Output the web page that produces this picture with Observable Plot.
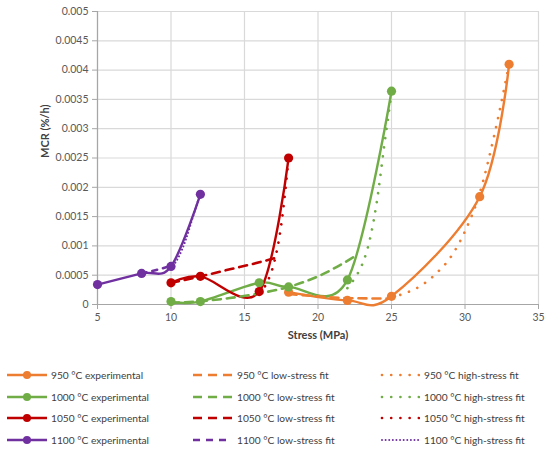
<!DOCTYPE html>
<html>
<head>
<meta charset="utf-8">
<script src="https://cdn.jsdelivr.net/npm/d3@7"></script>
<script src="https://cdn.jsdelivr.net/npm/@observablehq/plot@0.6"></script>
<style>
  body { margin: 0; background: #fff; font-family: Lato, "Open Sans", sans-serif; }
  #wrap { position: relative; width: 550px; height: 452px; }
  #legend { position: absolute; left: 0; top: 350px; width: 550px; height: 102px; }
  .item { position: absolute; height: 16px; display: flex; align-items: center; font-size: 10.2px; color: #404040; white-space: nowrap; }
  .item svg { margin-right: 4px; }
</style>
</head>
<body>
<div id="wrap"><div id="chart"></div><div id="legend"></div></div>
<script>
// ---- Data ----
const xTicks = [5, 10, 15, 20, 25, 30, 35];
const yTicks = [0, 0.0005, 0.001, 0.0015, 0.002, 0.0025, 0.003, 0.0035, 0.004, 0.0045, 0.005];

// experimental
const exp950Stress = [18, 22, 25, 31, 33];
const exp950Mcr = [0.00021, 0.00007, 0.00014, 0.00184, 0.0041];
const exp1000Stress = [10, 12, 16, 18, 22, 25];
const exp1000Mcr = [0.00005, 0.00005, 0.00037, 0.0003, 0.00042, 0.00364];
const exp1050Stress = [10, 12, 16, 18];
const exp1050Mcr = [0.00037, 0.00048, 0.00022, 0.0025];
const exp1100Stress = [5, 8, 10, 12];
const exp1100Mcr = [0.00034, 0.00053, 0.00065, 0.00188];

// low-stress fits
const low950Stress = [18, 20, 22, 25];
const low950Mcr = [0.00018, 0.00014, 0.00011, 0.0001];
const low1000Stress = [10, 12, 14, 16, 18, 20, 22.5];
const low1000Mcr = [0.000026, 0.000056, 0.00011, 0.00019, 0.0003, 0.00048, 0.00082];
const low1050Stress = [10, 12, 14, 16, 17.3];
const low1050Mcr = [0.00037, 0.00048, 0.0006, 0.00072, 0.00081];
const low1100Stress = [8, 9, 10];
const low1100Mcr = [0.00053, 0.00059, 0.00066];

// high-stress fits
const high950Stress = [25, 26, 27, 28, 29, 30, 31, 32, 33];
const high950Mcr = [0.00012, 0.0002, 0.00032, 0.00052, 0.0008, 0.00125, 0.0019, 0.0029, 0.0041];
const high1000Stress = [22, 22.5, 23, 23.5, 24, 24.5, 25];
const high1000Mcr = [0.00028, 0.00045, 0.00068, 0.00108, 0.00175, 0.0027, 0.0036];
const high1050Stress = [16, 16.5, 17, 17.5, 18];
const high1050Mcr = [0.00019, 0.00036, 0.0007, 0.00136, 0.0025];
const high1100Stress = [10, 10.5, 11, 11.5, 12];
const high1100Mcr = [0.00062, 0.0008, 0.0011, 0.0015, 0.0019];

const temps = ["950", "1000", "1050", "1100"];
const colors = {"950": "#ED7D31", "1000": "#70AD47", "1050": "#C00000", "1100": "#7030A0"};

const rows = (xs, ys) => xs.map((x, i) => ({x, y: ys[i]}));
const exp = {"950": rows(exp950Stress, exp950Mcr), "1000": rows(exp1000Stress, exp1000Mcr),
             "1050": rows(exp1050Stress, exp1050Mcr), "1100": rows(exp1100Stress, exp1100Mcr)};
const low = {"950": rows(low950Stress, low950Mcr), "1000": rows(low1000Stress, low1000Mcr),
             "1050": rows(low1050Stress, low1050Mcr), "1100": rows(low1100Stress, low1100Mcr)};
const high = {"950": rows(high950Stress, high950Mcr), "1000": rows(high1000Stress, high1000Mcr),
              "1050": rows(high1050Stress, high1050Mcr), "1100": rows(high1100Stress, high1100Mcr)};

const dashFor = t => t === "1100" ? "5,6" : "8,6";
const dotFor = t => t === "1100" ? "0.01,3.6" : "0.01,9.2";
const dotW = t => t === "1100" ? 2 : 2.7;

const marks = [
  Plot.gridX(xTicks, {stroke: "#d9d9d9", strokeOpacity: 1, strokeWidth: 1.2}),
  Plot.gridY(yTicks, {stroke: "#d9d9d9", strokeOpacity: 1, strokeWidth: 1.2}),
  Plot.ruleY([0], {stroke: "#a6a6a6", strokeWidth: 1.2}),
  Plot.ruleX([5], {stroke: "#a6a6a6", strokeWidth: 1.2}),
  Plot.axisX({ticks: xTicks, tickSize: 5, tickPadding: 4, label: null, stroke: "#a6a6a6", fill: "#595959", fontSize: 10.5}),
  Plot.axisY({ticks: yTicks, tickSize: 5, tickPadding: 4, label: null, stroke: "#a6a6a6", fill: "#595959", fontSize: 10.5,
              tickFormat: d => String(+d.toFixed(4))}),
];
for (const t of temps) {
  marks.push(Plot.line(exp[t], {x: "x", y: "y", stroke: colors[t], strokeWidth: 2.4, curve: "cardinal", tension: 0}));
}
for (const t of temps) {
  marks.push(Plot.line(low[t], {x: "x", y: "y", stroke: colors[t], strokeWidth: 2.6, strokeDasharray: dashFor(t), curve: "monotone-x"}));
  marks.push(Plot.line(high[t], {x: "x", y: "y", stroke: colors[t], strokeWidth: dotW(t), strokeDasharray: dotFor(t), strokeLinecap: "round", curve: "monotone-x"}));
}
for (const t of temps) {
  marks.push(Plot.dot(exp[t], {x: "x", y: "y", fill: colors[t], r: 4.6}));
}
marks.push(Plot.text(["Stress (MPa)"], {frameAnchor: "bottom", dy: 34, fontWeight: "bold", fontSize: 11, fill: "#404040"}));
marks.push(Plot.text(["MCR (%/h)"], {frameAnchor: "left", dx: -52, rotate: -90, fontWeight: "bold", fontSize: 11, fill: "#404040"}));

const chart = Plot.plot({
  width: 550, height: 350,
  marginLeft: 97, marginRight: 12, marginTop: 11, marginBottom: 46,
  style: {fontFamily: "Lato, 'Open Sans', sans-serif", background: "#fff"},
  x: {domain: [5, 35]},
  y: {domain: [0, 0.005]},
  marks
});
document.getElementById("chart").appendChild(chart);

// ---- Legend ----
const legend = document.getElementById("legend");
const rowY = [25, 47, 68, 90];
const cols = [{x: 7, kind: "exp", label: " experimental"},
              {x: 193, kind: "low", label: " low-stress fit"},
              {x: 380, kind: "high", label: " high-stress fit"}];
temps.forEach((t, r) => {
  cols.forEach(c => {
    const div = document.createElement("div");
    div.className = "item";
    div.style.left = c.x + "px";
    div.style.top = (rowY[r] - 8) + "px";
    let sw;
    const col = colors[t];
    if (c.kind === "exp") {
      sw = `<svg width="40" height="16"><line x1="0" y1="8" x2="40" y2="8" stroke="${col}" stroke-width="2.4"/><circle cx="20" cy="8" r="4" fill="${col}"/></svg>`;
    } else if (c.kind === "low") {
      const w = t === "1100" ? 34 : 39;
      sw = `<svg width="40" height="16"><line x1="0" y1="8" x2="${w}" y2="8" stroke="${col}" stroke-width="2.6" stroke-dasharray="${t === "1100" ? "7,6" : "9,6"}"/></svg>`;
    } else {
      sw = `<svg width="40" height="16"><line x1="2" y1="8" x2="40" y2="8" stroke="${col}" stroke-width="${dotW(t)}" stroke-linecap="round" stroke-dasharray="${dotFor(t)}"/></svg>`;
    }
    div.innerHTML = sw + `<span>${t} °C${c.label}</span>`;
    legend.appendChild(div);
  });
});
</script>
</body>
</html>
